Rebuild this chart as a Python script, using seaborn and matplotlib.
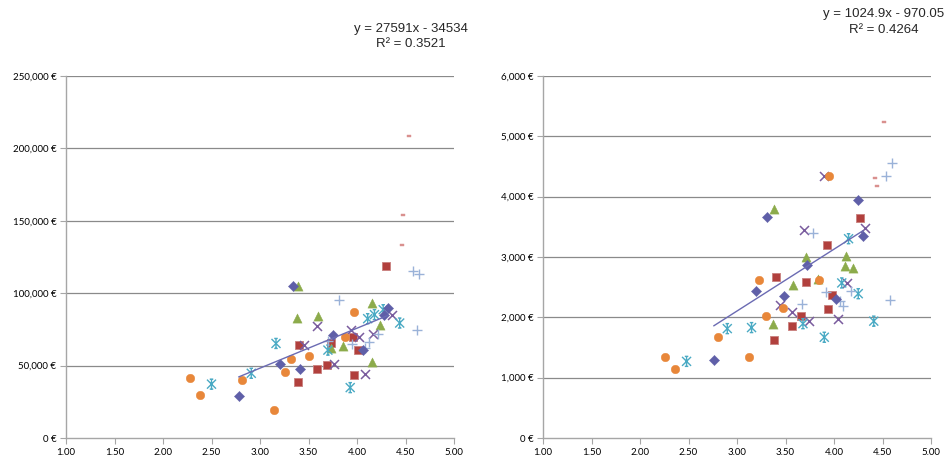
import matplotlib
matplotlib.use("Agg")
import matplotlib.pyplot as plt
import seaborn as sns
from matplotlib.path import Path
from matplotlib.ticker import FuncFormatter

sns.set_theme(style="white")
plt.rcParams['font.family'] = ['Liberation Sans', 'DejaVu Sans']

# ---------------- data: left chart (annual, EUR) ----------------
L_diamond_x = [2.78, 3.21, 3.34, 3.41, 3.75, 4.06, 4.28, 4.32]
L_diamond_y = [28700, 51100, 105000, 47900, 71000, 60700, 85200, 89700]
L_square_x = [3.39, 3.405, 3.585, 3.69, 3.73, 3.96, 3.97, 4.01, 4.30]
L_square_y = [39000, 64300, 47700, 50400, 65300, 69800, 43300, 60700, 119000]
L_tri_x = [3.38, 3.39, 3.60, 3.73, 3.86, 4.15, 4.15, 4.24]
L_tri_y = [83000, 105000, 84000, 62300, 63400, 52700, 93400, 77800]
L_cross_x = [3.45, 3.59, 3.76, 3.94, 4.02, 4.08, 4.16, 4.36]
L_cross_y = [63900, 77600, 51100, 74400, 69800, 44200, 71500, 85200]
L_star_x = [2.50, 2.91, 3.165, 3.70, 3.93, 4.11, 4.18, 4.27, 4.44]
L_star_y = [37200, 44700, 65300, 60700, 34800, 82400, 85200, 88600, 79400]
L_circle_x = [2.28, 2.38, 2.81, 3.14, 3.26, 3.32, 3.505, 3.88, 3.97]
L_circle_y = [41300, 30000, 40300, 19300, 45600, 54300, 56600, 69800, 87000]
L_plus_x = [3.70, 3.81, 3.95, 4.08, 4.12, 4.22, 4.58, 4.62, 4.64]
L_plus_y = [67000, 95500, 64800, 62500, 66400, 72100, 115400, 74400, 113300]
L_dash_x = [4.46, 4.47, 4.54]
L_dash_y = [133400, 153800, 208600]

# ---------------- data: right chart (monthly, EUR) ----------------
R_diamond_x = [2.76, 3.20, 3.31, 3.48, 3.72, 4.02, 4.25, 4.30]
R_diamond_y = [1287, 2442, 3670, 2347, 2860, 2303, 3942, 3347]
R_square_x = [3.38, 3.40, 3.57, 3.66, 3.71, 3.93, 3.94, 3.98, 4.27]
R_square_y = [1625, 2670, 1850, 2028, 2578, 3200, 2142, 2370, 3642]
R_tri_x = [3.37, 3.38, 3.58, 3.71, 3.83, 4.11, 4.12, 4.20]
R_tri_y = [1887, 3803, 2530, 3008, 2640, 2847, 3013, 2813]
R_cross_x = [3.44, 3.57, 3.69, 3.74, 3.90, 4.04, 4.13, 4.32]
R_cross_y = [2208, 2086, 3447, 1933, 4337, 1970, 2570, 3487]
R_star_x = [2.48, 2.90, 3.15, 3.68, 3.90, 4.08, 4.15, 4.25, 4.41]
R_star_y = [1270, 1813, 1830, 1895, 1670, 2570, 3303, 2392, 1937]
R_circle_x = [2.26, 2.36, 2.80, 3.12, 3.23, 3.30, 3.47, 3.85, 3.95]
R_circle_y = [1342, 1137, 1680, 1342, 2613, 2030, 2160, 2625, 4337]
R_plus_x = [3.67, 3.78, 3.92, 4.06, 4.09, 4.18, 4.54, 4.58, 4.60]
R_plus_y = [2222, 3403, 2422, 2263, 2180, 2442, 4337, 2292, 4553]
R_dash_x = [4.42, 4.44, 4.52]
R_dash_y = [4308, 4175, 5237]

# trendline (series 1) coefficients as printed
L_slope, L_intercept, L_r2 = 27591, -34534, 0.3521
R_slope, R_intercept, R_r2 = 1024.9, -970.05, 0.4264

x_ticks = [1.00, 1.50, 2.00, 2.50, 3.00, 3.50, 4.00, 4.50, 5.00]
L_y_ticks = [0, 50000, 100000, 150000, 200000, 250000]
R_y_ticks = [0, 1000, 2000, 3000, 4000, 5000, 6000]

# ---------------- styles ----------------
C_DIAMOND = "#5F5FA8"
C_SQUARE = "#B1403D"
C_TRI = "#8CAB4B"
C_CROSS = "#7A5C9E"
C_STAR = "#4AAAC4"
C_CIRCLE = "#E8873A"
C_PLUS = "#9AB2D8"
C_DASH = "#D9908E"
C_TREND = "#6B6BB3"
GRID = "#8A8A8A"
AXIS = "#A6A6A6"

star_path = Path(
    [(0, -1), (0, 1), (-0.9, -0.9), (0.9, 0.9), (-0.9, 0.9), (0.9, -0.9),
     (-0.35, 1), (0.35, 1), (-0.35, -1), (0.35, -1)],
    [Path.MOVETO, Path.LINETO, Path.MOVETO, Path.LINETO, Path.MOVETO, Path.LINETO,
     Path.MOVETO, Path.LINETO, Path.MOVETO, Path.LINETO])
dash_path = Path([(-1, -0.35), (1, -0.35), (1, 0.35), (-1, 0.35), (-1, -0.35)],
                 [Path.MOVETO, Path.LINETO, Path.LINETO, Path.LINETO, Path.CLOSEPOLY])

fig = plt.figure(figsize=(9.52, 4.59), dpi=100)
W, H = 952, 459


def make_ax(x0):
    return fig.add_axes([x0 / W, (H - 438) / H, 388 / W, (438 - 76) / H])


def draw(ax, d, slope, intercept, yticks, fmt):
    ax.set_facecolor("white")
    for yv in yticks[1:]:
        ax.axhline(yv, color=GRID, lw=0.9, zorder=0)
    sns.scatterplot(x=d["square"][0], y=d["square"][1], ax=ax, marker="s", s=36,
                    color=C_SQUARE, edgecolor="#C9807E", linewidth=0.6, zorder=3)
    sns.scatterplot(x=d["tri"][0], y=d["tri"][1], ax=ax, marker="^", s=44,
                    color=C_TRI, edgecolor=C_TRI, linewidth=0.3, zorder=3)
    sns.scatterplot(x=d["cross"][0], y=d["cross"][1], ax=ax, marker="x", s=42,
                    color=C_CROSS, linewidth=1.1, zorder=3)
    sns.scatterplot(x=d["star"][0], y=d["star"][1], ax=ax, marker=star_path, s=52,
                    color=C_STAR, facecolor="none", edgecolor=C_STAR, linewidth=1.0, zorder=3)
    sns.scatterplot(x=d["circle"][0], y=d["circle"][1], ax=ax, marker="o", s=38,
                    color=C_CIRCLE, edgecolor=C_CIRCLE, linewidth=0.3, zorder=3)
    sns.scatterplot(x=d["plus"][0], y=d["plus"][1], ax=ax, marker="+", s=62,
                    color=C_PLUS, linewidth=1.0, zorder=3)
    sns.scatterplot(x=d["dash"][0], y=d["dash"][1], ax=ax, marker=dash_path, s=10,
                    color=C_DASH, edgecolor=C_DASH, linewidth=0.3, zorder=3)
    sns.scatterplot(x=d["diamond"][0], y=d["diamond"][1], ax=ax, marker="D", s=27,
                    color=C_DIAMOND, edgecolor=C_DIAMOND, linewidth=0.3, zorder=4)
    dx = d["diamond"][0]
    tx = [min(dx), max(dx)]
    ty = [slope * v + intercept for v in tx]
    sns.lineplot(x=tx, y=ty, ax=ax, color=C_TREND, lw=1.0, zorder=5)

    ax.set_xlim(1, 5)
    ax.set_ylim(yticks[0], yticks[-1])
    ax.set_xticks(x_ticks)
    ax.set_yticks(yticks)
    ax.xaxis.set_major_formatter(FuncFormatter(lambda v, p: f"{v:.2f}"))
    ax.yaxis.set_major_formatter(FuncFormatter(fmt))
    for side in ("top", "right"):
        ax.spines[side].set_visible(False)
    for side in ("left", "bottom"):
        ax.spines[side].set_color(AXIS)
        ax.spines[side].set_linewidth(1.0)
    ax.tick_params(axis="both", which="major", direction="out", length=4, width=0.8,
                   color=AXIS, labelsize=7, labelcolor="#000000", pad=3,
                   left=True, bottom=True)
    for lab in ax.get_xticklabels() + ax.get_yticklabels():
        lab.set_fontfamily(["Lato", "DejaVu Sans"])
    ax.set_xlabel("")
    ax.set_ylabel("")


L_data = {"diamond": (L_diamond_x, L_diamond_y), "square": (L_square_x, L_square_y),
          "tri": (L_tri_x, L_tri_y), "cross": (L_cross_x, L_cross_y),
          "star": (L_star_x, L_star_y), "circle": (L_circle_x, L_circle_y),
          "plus": (L_plus_x, L_plus_y), "dash": (L_dash_x, L_dash_y)}
R_data = {"diamond": (R_diamond_x, R_diamond_y), "square": (R_square_x, R_square_y),
          "tri": (R_tri_x, R_tri_y), "cross": (R_cross_x, R_cross_y),
          "star": (R_star_x, R_star_y), "circle": (R_circle_x, R_circle_y),
          "plus": (R_plus_x, R_plus_y), "dash": (R_dash_x, R_dash_y)}

axL = make_ax(66)
draw(axL, L_data, L_slope, L_intercept, L_y_ticks, lambda v, p: f"{v:,.0f} €")
axR = make_ax(543)
draw(axR, R_data, R_slope, R_intercept, R_y_ticks, lambda v, p: f"{v:,.0f} €")

fig.text(411 / W, 1 - 29 / H, f"y = {L_slope}x - {abs(L_intercept)}", ha="center",
         va="center", fontsize=9.5)
fig.text(411 / W, 1 - 44 / H, f"R² = {L_r2}", ha="center", va="center", fontsize=9.5)
fig.text(884 / W, 1 - 14 / H, f"y = {R_slope}x - {abs(R_intercept):.2f}", ha="center",
         va="center", fontsize=9.5)
fig.text(884 / W, 1 - 30 / H, f"R² = {R_r2}", ha="center", va="center", fontsize=9.5)

fig.savefig("out.png", dpi=100, facecolor="white")
